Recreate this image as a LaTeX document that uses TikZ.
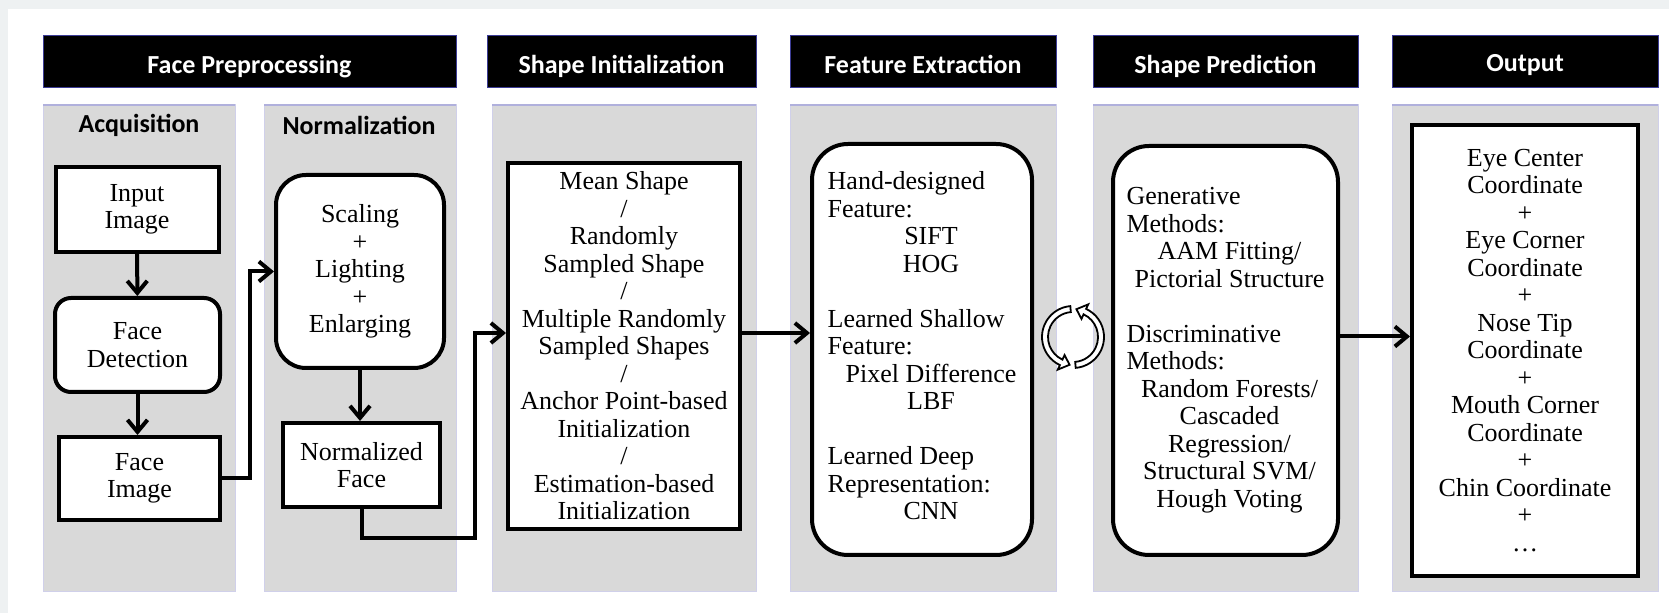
\documentclass[tikz,border=0pt]{standalone}
\usepackage{fontspec}
\setmainfont{Liberation Serif}
\newfontfamily\hdfont{Carlito}
\usetikzlibrary{arrows.meta}
\definecolor{bgstrip}{HTML}{EEF1F2}
\definecolor{panelgray}{HTML}{D9D9D9}
\definecolor{panelline}{HTML}{B0B0DC}
\definecolor{hdline}{HTML}{3C3C96}
\newcommand{\ctrline}[1]{\multicolumn{1}{@{\hspace{9pt}}c@{}}{#1}}
\newcommand{\ctrlineb}[1]{\multicolumn{1}{@{\hspace{4pt}}c@{}}{#1}}
\begin{document}
\begin{tikzpicture}[x=0.5pt,y=-0.5pt,
  hd/.style={fill=black,draw=hdline,line width=0.5pt,text=white,inner sep=0pt,
    minimum height=26pt,text height=12pt,text depth=0pt,
    font=\hdfont\bfseries\fontsize{13}{15}\selectfont},
  sub/.style={font=\hdfont\bfseries\fontsize{13}{15}\selectfont},
  box/.style={draw,fill=white,line width=2pt,align=center,inner sep=0pt,
    font=\rmfamily\fontsize{13}{13.75}\selectfont},
  rbox/.style={box,rounded corners=#1},
  arr/.style={line width=2pt,-{Straight Barb[length=6pt,width=10pt,line width=2pt]}}]
\useasboundingbox (0,0) rectangle (1669,613);
\fill[white] (0,0) rectangle (1669,613);
\fill[bgstrip] (0,0) rectangle (1669,9);
\fill[bgstrip] (0,0) rectangle (8,613);
\foreach \a/\b in {43/235,264/456,492/756,790/1056,1093/1358,1392/1658} {
  \filldraw[fill=panelgray,draw=panelline!60,line width=0.5pt] (\a,105) rectangle (\b,592);
  \draw[panelline,line width=1pt] (\a,105) -- (\b,105);
}
\node[hd,minimum width=206.5pt] (h1) at (249.5,62) {Face Preprocessing};
\node[hd,minimum width=134.5pt] (h2) at (621.5,62) {Shape Initialization};
\node[hd,minimum width=133pt] (h3) at (923,62) {Feature Extraction};
\node[hd,minimum width=132.5pt] (h4) at (1225.5,62) {Shape Prediction};
\node[hd,minimum width=133pt,text height=10pt] (h5) at (1525,62) {Output};
\node[sub] (l1) at (139,125) {Acquisition};
\node[sub] (l2) at (359,125) {Normalization};
\node[box,minimum width=81.5pt,minimum height=42.5pt] (v1) at (137,209.5) {Input\\Image};
\node[rbox=8pt,minimum width=82.5pt,minimum height=47pt] (v2) at (137.5,345) {Face\\Detection};
\node[box,minimum width=80.5pt,minimum height=41.5pt] (v3) at (139.5,478.5) {Face\\Image};
\node[rbox=15pt,minimum width=84pt,minimum height=96.5pt] (v4) at (360,271.5) {Scaling\\+\\Lighting\\+\\Enlarging};
\node[box,minimum width=78.5pt,minimum height=42pt] (v5) at (361.5,465) {Normalized\\Face};
\node[box,minimum width=116pt,minimum height=183pt] (v6) at (624,346) {Mean Shape\\/\\Randomly\\Sampled Shape\\/\\Multiple Randomly\\Sampled Shapes\\/\\Anchor Point-based\\Initialization\\/\\Estimation-based\\Initialization};
\node[rbox=18pt,minimum width=110pt,minimum height=205.5pt] (v7) at (922,349.5) {\begin{tabular}{@{}l@{}}Hand-designed\\Feature:\\\ctrline{SIFT}\\\ctrline{HOG}\\ \\Learned Shallow\\Feature:\\\ctrline{Pixel Difference}\\\ctrline{LBF}\\ \\Learned Deep\\Representation:\\\ctrline{CNN}\end{tabular}};
\node[rbox=18pt,minimum width=112.5pt,minimum height=204.5pt] (v8) at (1225.5,350.5) {\raisebox{2pt}{\begin{tabular}{@{}l@{}}Generative\\Methods:\\\ctrlineb{AAM Fitting/}\\\ctrlineb{Pictorial Structure}\\ \\Discriminative\\Methods:\\\ctrlineb{Random Forests/}\\\ctrlineb{Cascaded}\\\ctrlineb{Regression/}\\\ctrlineb{Structural SVM/}\\\ctrlineb{Hough Voting}\end{tabular}}};
\node[box,minimum width=113pt,minimum height=225.5pt] (v9) at (1525,350.5) {Eye Center\\Coordinate\\+\\Eye Corner\\Coordinate\\+\\Nose Tip\\Coordinate\\+\\Mouth Corner\\Coordinate\\+\\Chin Coordinate\\+\\…};
\coordinate (c1) at (475,538);
\coordinate (c2) at (1073,337);
\draw[arr] (v1) -- (v2);
\draw[arr] (v2.south) -- (v2.south |- v3.north);
\draw[arr] (v3.east) -- ++(28,0) |- (v4.west);
\draw[arr] (v4.south) -- (v4.south |- v5.north);
\draw[arr] (v5.south) |- (c1) |- ([yshift=6.5pt]v6.west);
\draw[arr] ([yshift=6.5pt]v6.east) -- ([yshift=6.5pt]v6.east -| v7.west);
\draw[arr] ([yshift=7pt]v8.east) -- ([yshift=7pt]v8.east -| v9.west);
\begin{scope}[shift={(c2)}]
\foreach \s in {0,180}
  \filldraw[fill=white,line width=0.9pt,rotate=\s] (95:15.5pt) arc[start angle=95,end angle=245,radius=15.5pt]
    -- (245:18pt) -- (263:14pt) -- (245:10pt) -- (245:12.5pt)
    arc[start angle=245,end angle=95,radius=12.5pt] -- cycle;
\end{scope}
\end{tikzpicture}
\end{document}
